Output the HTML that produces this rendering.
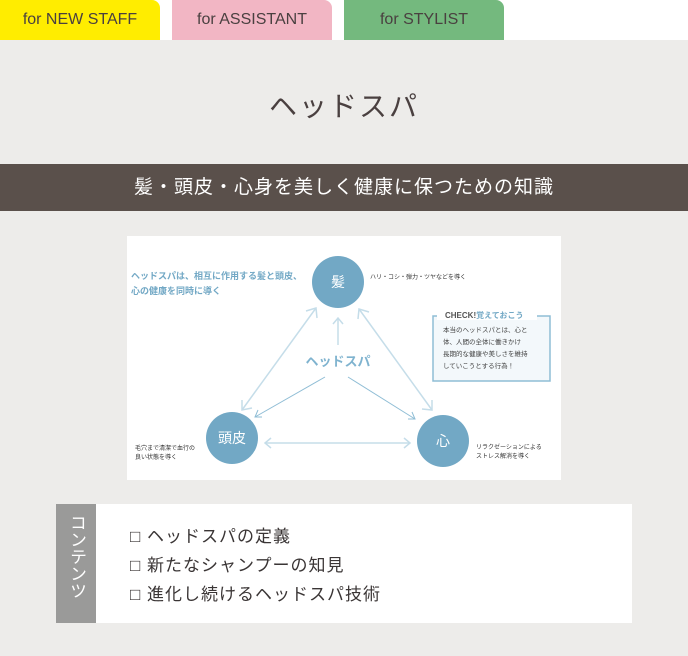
<!DOCTYPE html>
<html><head><meta charset="utf-8"><style>
body{margin:0;width:688px;height:656px;background:#edecea;position:relative;overflow:hidden;font-family:"Liberation Sans","Noto Sans CJK JP",sans-serif;}
.top{position:absolute;left:0;top:0;width:688px;height:40px;background:#fff}
.tab{position:absolute;top:0;height:40px;width:160px;border-radius:0 8px 0 0;text-align:center;line-height:40px;font-size:16px;color:#4a4040}
.t{position:absolute;}
</style></head><body>
<div class="top"></div>
<div class="tab" style="left:0;background:#ffed00">for NEW STAFF</div>
<div class="tab" style="left:172px;background:#f2b6c4">for ASSISTANT</div>
<div class="tab" style="left:344px;background:#74b97e">for STYLIST</div>
<div class="t" style="left:0;width:688px;top:85px;text-align:center;font-size:28px;letter-spacing:2px;color:#4a4040">ヘッドスパ</div>
<div class="t" style="left:0;top:164px;width:688px;height:47px;background:#5a504b;color:#fff;font-size:19px;letter-spacing:1px;line-height:47px;text-align:center">髪・頭皮・心身を美しく健康に保つための知識</div>
<svg class="t" style="left:127px;top:236px" width="434" height="244" viewBox="127 236 434 244">
<rect x="127" y="236" width="434" height="244" fill="#fff"/>
<g stroke="#c5dde9" stroke-width="1.5" fill="none">
<line x1="242" y1="410" x2="316" y2="308"/><polyline points="306,311 316,308 317,318"/><polyline points="242,400 242,410 252,408"/>
<line x1="359" y1="309" x2="432" y2="410"/><polyline points="358,319 359,309 369,312"/><polyline points="422,409 432,410 432,400"/>
<line x1="338" y1="345" x2="338" y2="318"/><polyline points="333,324 338,318 343,324"/>
<line x1="265" y1="443" x2="410" y2="443"/><polyline points="271,438 265,443 271,448"/><polyline points="404,438 410,443 404,448"/>
</g>
<g stroke="#8fbdd5" stroke-width="1" fill="none">
<line x1="325" y1="377" x2="255" y2="417"/><polyline points="258,410 255,417 262,417"/>
<line x1="348" y1="377" x2="415" y2="419"/><polyline points="408,419 415,419 412,412"/>
</g>
<g fill="#72a8c5"><circle cx="338" cy="282" r="26"/><circle cx="232" cy="438" r="26"/><circle cx="443" cy="441" r="26"/></g>
<g fill="#fff" font-size="14" text-anchor="middle"><text x="338" y="287">髪</text><text x="232" y="443">頭皮</text><text x="443" y="446">心</text></g>
<text x="338" y="366" font-size="13" font-weight="bold" fill="#7fb3cf" text-anchor="middle">ヘッドスパ</text>
<g font-size="9" font-weight="bold" fill="#72a8c5"><text x="131" y="279">ヘッドスパは、相互に作用する髪と頭皮、</text><text x="131" y="294">心の健康を同時に導く</text></g>
<g font-size="6" fill="#333"><text x="370" y="279">ハリ・コシ・弾力・ツヤなどを導く</text>
<text x="135" y="450">毛穴まで清潔で血行の</text><text x="135" y="459">良い状態を導く</text>
<text x="476" y="449">リラクゼーションによる</text><text x="476" y="458">ストレス解消を導く</text></g>
<rect x="433" y="316" width="117" height="65" fill="#f3f8fb" stroke="#8fbdd5" stroke-width="1.5"/>
<rect x="437" y="310" width="100" height="10" fill="#fff"/>
<text x="445" y="318" font-size="8" font-weight="bold" fill="#555">CHECK!<tspan fill="#72a8c5">覚えておこう</tspan></text>
<g font-size="6.5" fill="#444"><text x="443" y="332">本当のヘッドスパとは、心と</text><text x="443" y="344">体、人間の全体に働きかけ</text><text x="443" y="356">長期的な健康や美しさを維持</text><text x="443" y="368">していこうとする行為！</text></g>
</svg>
<div class="t" style="left:56px;top:504px;width:40px;height:119px;background:#9a9a99"></div>
<div class="t" style="left:66px;top:514px;width:20px;color:#fff;font-size:17px;line-height:19px;writing-mode:vertical-rl">コンテンツ</div>
<div class="t" style="left:96px;top:504px;width:536px;height:119px;background:#fff"></div>
<div class="t" style="left:130px;top:522px;font-size:17px;line-height:29px;letter-spacing:1px;color:#3a3535">□ ヘッドスパの定義<br>□ 新たなシャンプーの知見<br>□ 進化し続けるヘッドスパ技術</div>
</body></html>
